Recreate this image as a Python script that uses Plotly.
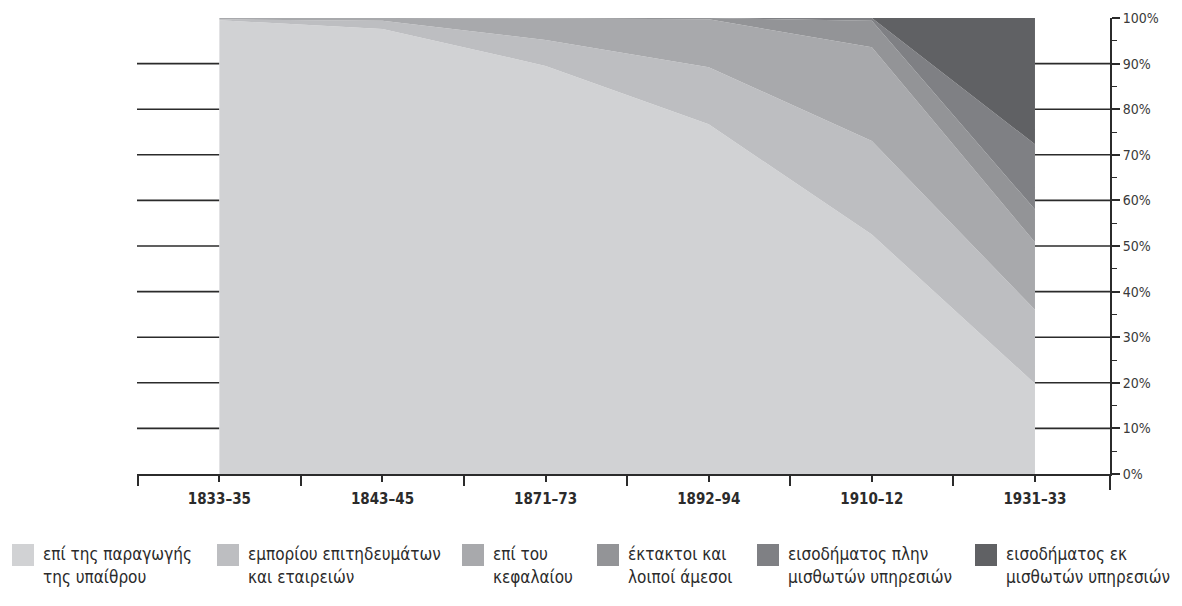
import plotly.graph_objects as go

periods = ["1833–35", "1843–45", "1871–73", "1892–94", "1910–12", "1931–33"]
series_names = [
    "επί της παραγωγής<br>της υπαίθρου",
    "εμπορίου επιτηδευμάτων<br>και εταιρειών",
    "επί του<br>κεφαλαίου",
    "έκτακτοι και<br>λοιποί άμεσοι",
    "εισοδήματος πλην<br>μισθωτών υπηρεσιών",
    "εισοδήματος εκ<br>μισθωτών υπηρεσιών",
]
s_ypaithrou = [99.5, 97.6, 89.5, 76.7, 52.5, 19.8]
s_emporiou = [0.2, 1.8, 5.7, 12.5, 20.5, 16.2]
s_kefalaiou = [0.3, 0.6, 4.7, 10.5, 20.6, 14.8]
s_ektaktoi = [0.0, 0.0, 0.1, 0.3, 5.8, 7.2]
s_plin_misth = [0.0, 0.0, 0.0, 0.0, 0.6, 14.3]
s_ek_misth = [0.0, 0.0, 0.0, 0.0, 0.0, 27.7]
y_ticks = list(range(0, 101, 10))

series_values = [s_ypaithrou, s_emporiou, s_kefalaiou, s_ektaktoi, s_plin_misth, s_ek_misth]
colors = ["#d1d2d4", "#bdbec1", "#a8a9ac", "#939497", "#7f8084", "#606164"]

FONT = "Liberation Sans Narrow, DejaVu Sans Condensed, Arial Narrow, sans-serif"
INK = "#2b2b2b"

fig = go.Figure()
xs = list(range(len(periods)))
for name, vals, col in zip(series_names, series_values, colors):
    fig.add_trace(go.Scatter(
        x=xs, y=vals, name=name.replace("<br>", " "), stackgroup="one",
        mode="none", fillcolor=col, line=dict(width=0), showlegend=False,
    ))

# page is drawn with an 8px body margin, so work in page pixels minus 8
OFF = 8
W, H = 1182 - OFF, 606 - OFF
L, T = 137 - OFF, 18 - OFF
PR, PB = 1110 - OFF, 474 - OFF  # plot right / bottom in figure px
R, B = W - PR, H - PB
pw, ph = PR - L, PB - T

def px_to_paper_x(px):
    return (px - OFF - L) / pw

def px_to_paper_y(py):
    return (PB - (py - OFF)) / ph

XMIN, XMAX = -0.505, 5.46
shapes = []
# gridlines only outside the stacked area (left and right margins of the plot)
for v in y_ticks[1:-1]:
    for a, b in ((XMIN, xs[0]), (xs[-1], XMAX)):
        shapes.append(dict(type="line", xref="x", yref="y", x0=a, x1=b, y0=v, y1=v,
                           line=dict(color=INK, width=1.6), layer="below"))
# right axis extension below 0
shapes.append(dict(type="line", xref="paper", yref="paper", x0=1, x1=1,
                   y0=0, y1=px_to_paper_y(490), line=dict(color=INK, width=2)))

annotations = []
legend_left = [12, 217, 462, 597, 757, 975]
for name, col, lx in zip(series_names, colors, legend_left):
    shapes.append(dict(type="rect", xref="paper", yref="paper",
                       x0=px_to_paper_x(lx), x1=px_to_paper_x(lx + 22),
                       y0=px_to_paper_y(544), y1=px_to_paper_y(566),
                       fillcolor=col, line=dict(width=0)))
    lines = name.split("<br>")
    for i, t in enumerate(lines):
        annotations.append(dict(xref="paper", yref="paper",
                                x=px_to_paper_x(lx + 29), y=px_to_paper_y(554 + 23 * i),
                                xanchor="left", yanchor="middle", showarrow=False,
                                text=t, font=dict(family=FONT, size=17, color=INK)))

fig.update_layout(
    width=W, height=H,
    margin=dict(l=L, r=R, t=T, b=B, pad=0, autoexpand=False),
    paper_bgcolor="white", plot_bgcolor="white",
    shapes=shapes, annotations=annotations,
    showlegend=False,
    xaxis=dict(
        range=[XMIN, XMAX], tickmode="array", tickvals=xs, ticktext=periods,
        showgrid=False, zeroline=False, showline=True, linecolor=INK, linewidth=1.6,
        ticks="outside", ticklen=6, tickwidth=1.6, tickcolor=INK,
        ticklabelstandoff=4, automargin=False,
        tickfont=dict(family=FONT, size=15, color=INK, weight="bold"),
        minor=dict(tickmode="array", tickvals=[-0.5, 0.5, 1.5, 2.5, 3.5, 4.5],
                   ticks="outside", ticklen=10, tickwidth=1.6, tickcolor=INK, showgrid=False),
        fixedrange=True,
    ),
    yaxis=dict(
        range=[0, 100], side="right", tickmode="array", tickvals=y_ticks,
        ticktext=[f"{v}%" for v in y_ticks], automargin=False,
        showgrid=False, zeroline=False, showline=True, linecolor=INK, linewidth=2,
        ticks="outside", ticklen=8, tickwidth=1.6, tickcolor=INK,
        tickfont=dict(family=FONT, size=14, color="#3a3a3a"),
        minor=dict(dtick=5, tick0=0, ticks="outside", ticklen=5, tickwidth=1.4,
                   tickcolor=INK, showgrid=False),
        fixedrange=True,
    ),
)

fig.write_html("out.html")
